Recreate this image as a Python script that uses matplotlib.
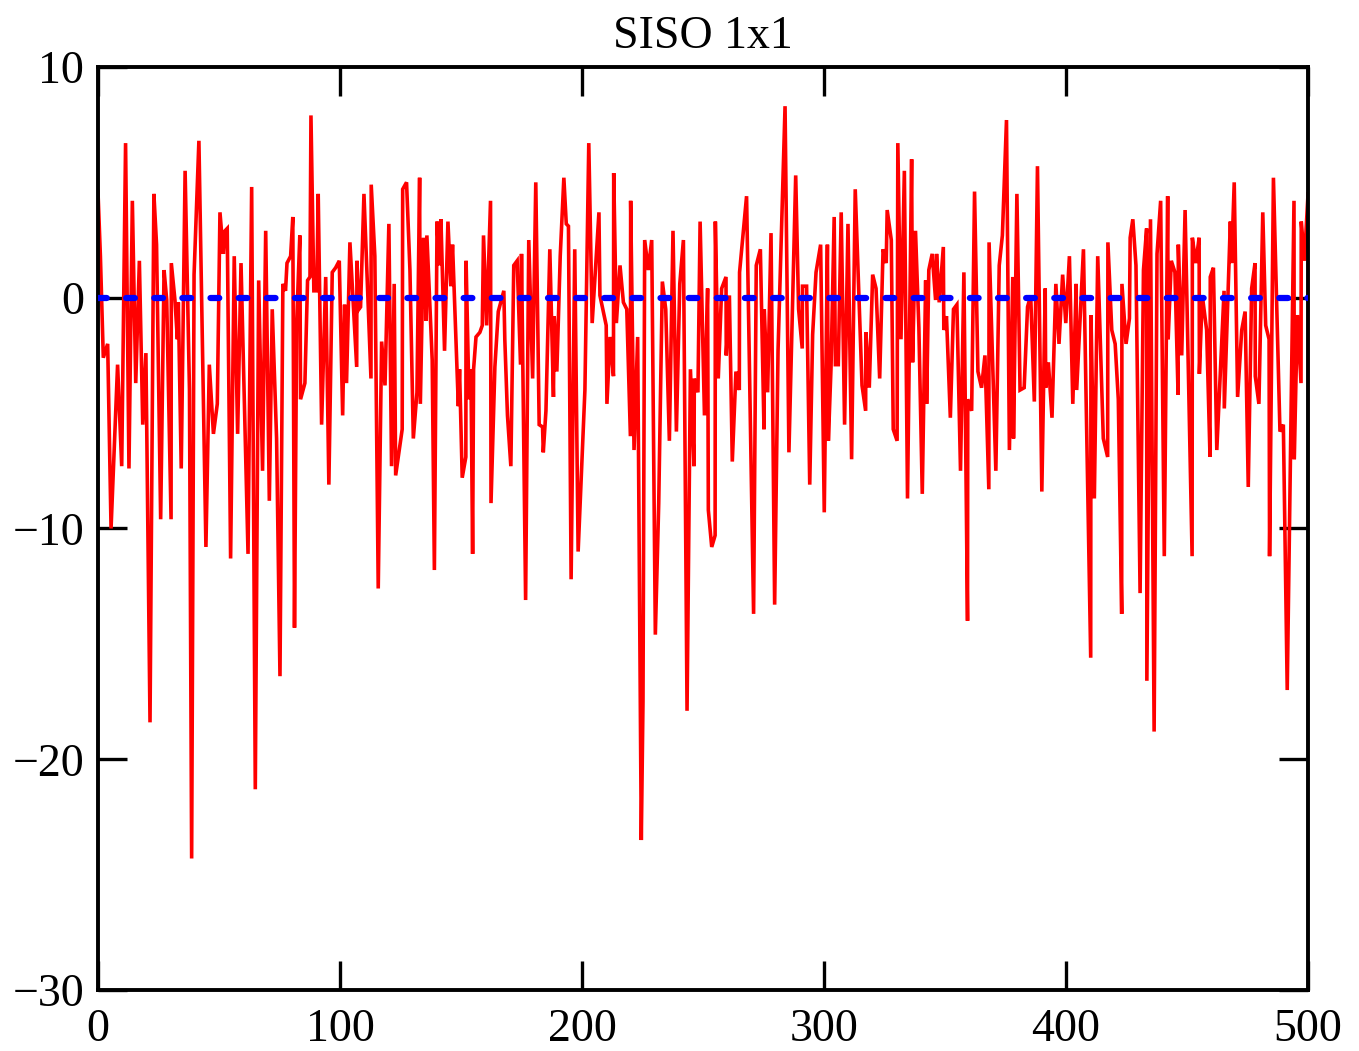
import matplotlib
matplotlib.use("Agg")
import matplotlib.pyplot as plt

# ---- data ----
x_sig = [0, 1.0, 2.2, 4.0, 5.4, 8.1, 9.8, 11.4, 12.8, 14.2, 15.6, 17.1, 18.5, 19.8, 21.5, 23.1, 24.2, 25.9, 27.3, 28.4,
         30.2, 30.3, 31.8, 32.8, 33.2, 34.4, 36.0, 37.8, 38.7, 39.7, 41.7,
         44.6, 46.0, 47.7, 49.3, 50.4, 51.8, 52.5, 53.4, 54.8, 56.3, 57.7, 59.1, 62.0, 63.5, 65.0, 66.4, 68.0, 69.3, 70.8,
         72.0, 73.8, 75.2, 76.4, 77.5, 78.1, 79.6, 80.5, 81.2, 82.1, 83.4,
         83.7, 85.5, 86.6, 87.6, 88.0, 89.2, 90.4, 91.0, 92.4, 94.1, 95.4, 96.8, 98.2, 99.7, 101.1, 101.9, 102.7, 104.1,
         106.9, 107.0, 107.8, 108.5, 109.9, 112.8, 112.9, 114.4, 115.8, 117.2, 118.6, 120.2, 121.3, 122.4, 123.0,
         125.7, 125.9, 127.5, 128.9, 130.3, 131.8, 132.9, 133.2, 134.5, 135.6, 135.9, 138.1, 139.0, 140.1, 141.0, 141.7,
         143.2, 144.6, 145.8, 146.5, 148.9, 149.4, 150.5, 152.0, 152.1, 153.3, 154.1, 154.8, 155.2, 156.2, 157.8, 158.8,
         159.3, 160.6, 162.2, 162.4, 164.0, 165.4,
         167.7, 168.1, 169.2, 170.6, 171.8, 173.2, 174.6, 175.0, 176.7, 178.0, 179.6, 180.9, 182.3, 183.7, 184.0, 185.1,
         186.7, 188.2, 188.5, 189.6, 191.0, 192.5, 193.5, 194.4, 195.5, 197.0, 198.4, 201.2, 202.8, 204.2, 207.0,
         207.4, 210.0, 210.3, 211.6, 213.0, 213.1, 214.2, 215.7, 217.1, 218.5, 220.0, 220.1, 221.5, 223.0, 224.5, 225.2,
         225.9, 227.4, 228.8, 230.3, 231.7, 233.2, 234.6, 236.1, 237.6, 239.0, 240.4, 241.9, 243.4, 244.8, 246.3, 246.4,
         247.9, 248.8,
         250.6, 251.9, 252.2, 253.6, 255.0, 255.1, 256.3, 257.7, 259.5, 259.6, 260.9, 262.1, 263.6, 265.0, 265.1, 268.0,
         270.9, 272.0, 273.7, 275.2, 275.3, 276.7, 278.1, 279.6, 281.0, 283.9, 285.5, 288.3, 289.5,
         291.0, 291.1, 292.8, 294.1, 295.3, 296.7, 298.6, 300.1, 301.4, 301.8, 302.9, 304.2, 304.7, 305.9, 307.1, 308.5,
         309.9, 311.4, 312.9, 315.7, 317.2, 317.3, 318.7, 320.1, 321.5, 323.0, 324.4, 325.7, 326.1, 327.8, 328.6, 330.2,
         330.5,
         331.8, 333.2, 334.5, 336.2, 336.6, 337.8, 339.2, 340.6, 342.0, 342.4, 343.3, 344.7, 346.1, 346.5, 347.6, 349.3,
         349.5, 350.6, 352.2, 353.5, 354.9, 356.4, 357.8, 359.3, 359.4, 361.0, 362.2, 363.6, 365.1, 366.5, 368.1, 368.2,
         371.0, 372.4,
         373.7, 375.4, 376.6, 378.0, 378.3, 379.7, 381.0, 382.7, 384.1, 385.4, 386.9, 388.2, 390.0, 391.4, 391.6, 392.7,
         394.2, 395.8, 397.1, 398.6, 399.9, 401.4, 402.8, 404.2, 404.4, 407.2, 410.2, 410.3, 411.7, 413.1,
         415.4, 417.2, 417.3, 418.9, 420.3, 421.6, 423.0, 423.1, 424.8, 426.2, 426.5, 427.6, 428.9, 430.6, 432.0, 433.3,
         433.4, 434.9, 436.4, 437.6, 439.1, 440.6, 442.0, 442.2, 443.5, 445.0, 446.3, 446.4, 447.8, 449.2, 452.1, 452.2,
         453.6, 455.0, 455.1,
         456.3, 458.1, 459.5, 459.6, 460.9, 462.3, 465.3, 465.4, 467.9, 468.4, 469.5, 470.9, 472.6, 474.0, 475.3, 476.7,
         478.1, 478.2, 479.7, 481.3, 482.5, 483.9, 484.1, 485.7, 488.4, 489.8, 491.4, 494.2, 494.3, 495.6, 497.1, 497.2,
         498.5, 500.0]
y_sig = [4.6, 1.8, -2.6, -2.0, -10.0, -2.9, -7.3, 6.7, -7.4, 4.2, -3.7, 1.6, -5.5, -2.4, -18.4, 4.5, 2.3, -9.6, 1.2, -0.1,
         -9.6, 1.5, -0.1, -1.8, -0.2, -7.4, 5.5, -4.0, -24.3, 1.0, 6.8,
         -10.8, -2.9, -5.9, -4.6, 3.7, 1.9, 2.9, 3.0, -11.3, 1.8, -5.9, 1.5, -11.1, 4.8, -21.3, 0.75, -7.5, 2.9, -8.8,
         -0.5, -6.1, -16.4, 0.6, 0.3, 1.5, 1.8, 3.5, -14.3, -1.1, 2.7,
         -4.4, -3.7, 0.75, 0.9, 7.9, 0.3, 0.3, 4.5, -5.5, 0.9, -8.1, 1.1, 1.3, 1.6, -5.1, -0.3, -3.7, 2.4,
         -3.0, 1.6, -0.5, -0.4, 4.5, -3.5, 4.9, 1.8, -12.6, -1.9, -3.8, 3.2, -7.3, 0.6, -7.7,
         -5.7, 4.7, 5.0, 1.2, -6.1, -4.1, 5.2, -4.6, 2.6, -1.0, 2.7, -2.7, -11.8, 3.3, 1.4, 3.4,
         -2.3, 3.3, 0.5, 2.3, -4.7, -3.1, -7.8, -6.9, 1.6, -4.4, -3.1, -11.1, -3.1, -1.7, -1.5, -1.2,
         2.7, -1.2, 4.2, -8.9, -3.0, -0.6,
         0.3, -1.8, -5.1, -7.3, 1.4, 1.6, -2.9, 1.9, -13.1, 2.5, -3.5, 5.0, -5.5, -5.6, -6.7, -4.9,
         2.1, -4.3, -0.8, -3.2, 1.8, 5.2, 3.2, 3.1, -12.2, 2.1, -11.0, -4.0, 6.7, -1.1, 3.7,
         0.1, -1.2, -4.6, -1.7, -3.4, 5.4, -1.1, 1.4, -0.2, -0.5, -6.0, 4.2, -6.6, -1.7, -23.5, -17.5,
         2.5, 1.2, 2.5, -14.6, -8.9, 0.7, -0.5, -6.2, 2.9, -5.8, 0.6, 2.5, -17.9, -3.1, -7.3, -3.5,
         -4.1, 3.3,
         -5.1, 0.4, -9.2, -10.8, -10.3, 3.3, -3.5, 0.4, 0.9, -2.5, 0.1, -7.1, -3.2, -4.0, 1.1, 4.4,
         -13.7, 1.4, 2.1, -5.7, -0.5, -4.1, 2.8, -13.3, -2.3, 8.3, -6.7, 5.3, -0.5,
         -2.2, 0.5, 0.5, -8.1, -1.6, 1.1, 2.3, -9.3, 2.3, -6.2, -3.0, 3.5, -2.9, -2.9, 3.7, -5.5,
         3.2, -7.0, 4.7, -3.8, -4.9, -1.5, -3.9, 1.0, 0.4, -3.5, 2.1, 1.5, 3.8, 2.5, -5.7, -6.2,
         6.7,
         -1.8, 5.5, -8.7, 6.0, -2.8, 2.9, -1.3, -8.5, 0.75, -4.6, 1.2, 1.9, -0.1, 1.9, -0.2, 2.2,
         -1.4, -0.8, -5.2, -0.5, -0.3, -7.5, 1.1, -14.0, -4.4, -4.9, 4.6, -3.2, -3.9, -2.5, -8.3, 2.4,
         -7.5, 1.4,
         2.7, 7.7, -6.6, 0.9, -6.1, 4.5, -4.0, -3.9, -0.4, 0.1, -4.5, 5.7, -8.4, 0.4, -3.9, -2.8,
         -5.2, 0.6, -2.0, 1.0, -1.1, 1.8, -4.6, 0.6, -4.0, 2.1, -15.6, -0.75, -8.7, 1.8,
         -6.1, -6.9, 2.4, -1.4, -2.0, -4.4, -13.7, 0.6, -2.0, -0.9, 2.6, 3.4, 1.4, -12.8, 1.2, 3.0,
         -16.6, 3.4, -18.8, 1.9, 4.2, -11.2, 4.4, -1.8, 1.6, 1.1, -4.2, 2.3, -2.5, 3.8, -11.2, 2.6,
         1.5, 2.6, -3.3,
         0.1, -1.4, -6.9, 0.9, 1.3, -6.6, 0.3, -4.8, 3.3, 1.5, 5.0, -4.3, -1.4, -0.6, -8.2, 0.4,
         1.5, -3.4, -4.6, 3.7, -1.2, -1.8, -11.2, 5.2, -5.8, -5.5, -17.0, 4.2, -7.0, -0.75, -3.7, 3.3,
         1.6, 4.5]
x_ref = [0, 500]
y_ref = [0, 0]

title = "SISO 1x1"
x_ticks = [0, 100, 200, 300, 400, 500]
y_ticks = [-30, -20, -10, 0, 10]

plt.rcParams['font.family'] = ['Liberation Serif', 'DejaVu Serif']
plt.rcParams['axes.unicode_minus'] = True

fig = plt.figure(figsize=(13.59, 10.51), dpi=100)
ax = fig.add_axes([0.0721, 0.058, 0.8904, 0.8783])

ax.plot(x_sig, y_sig, color='#ff0000', lw=2.6, solid_joinstyle='miter', zorder=2)
ax.plot(x_ref, y_ref, color='#0000ff', lw=4.5, linestyle=(0, (1.4, 3.1)),
        dash_capstyle='round', zorder=3)

ax.set_xlim(0, 500)
ax.set_ylim(-30, 10)
ax.set_xticks(x_ticks)
ax.set_yticks(y_ticks)
ax.tick_params(axis='both', direction='in', length=21, width=2.4, labelsize=33,
               top=True, right=True, pad=10)
ax.tick_params(axis='x', pad=13)
for s in ax.spines.values():
    s.set_linewidth(2.8)
ax.set_title(title, fontsize=33, pad=14)

fig.savefig("out.png", dpi=100)
